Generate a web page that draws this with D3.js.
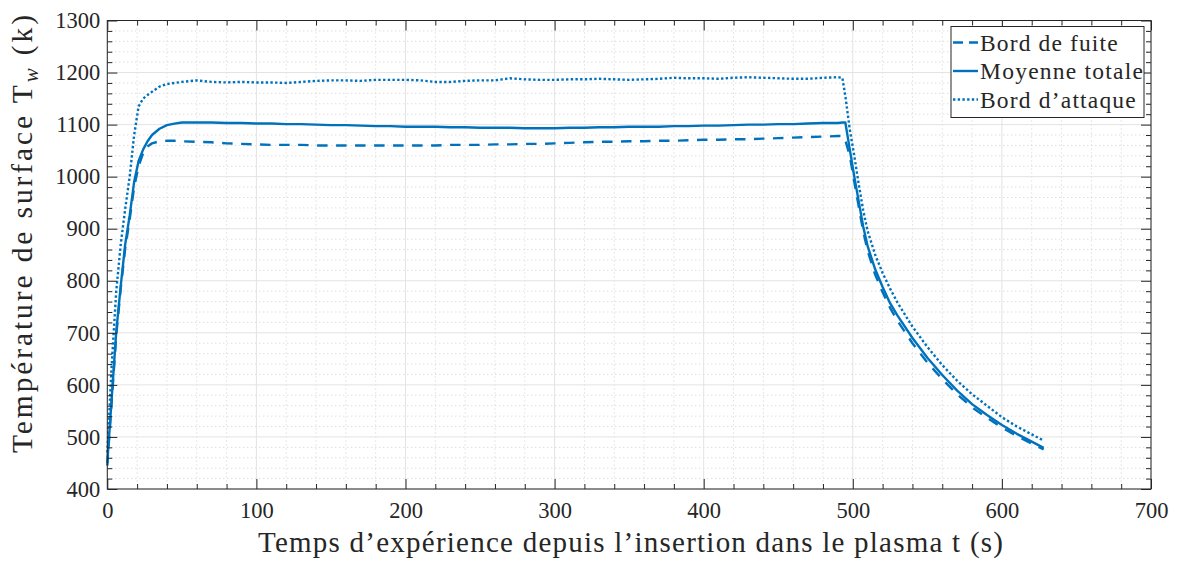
<!DOCTYPE html>
<html>
<head>
<meta charset="utf-8">
<script src="https://cdn.jsdelivr.net/npm/d3@7"></script>
<style>
  html, body { margin: 0; padding: 0; background: #ffffff; }
  svg { display: block; }
  text { font-family: "Liberation Serif", "Times New Roman", serif; fill: #262626; }
</style>
</head>
<body>
<svg id="chart" width="1182" height="563"></svg>
<script>
// ---------- data ----------
const time = [0, 3, 6, 9, 12, 15, 18, 21, 24, 27, 30, 35, 40, 45, 50, 60, 70, 80, 90, 100,
  110, 120, 130, 140, 150, 160, 170, 180, 190, 200, 210, 220, 230, 240, 250, 260, 270, 280, 290, 300,
  310, 320, 330, 340, 350, 360, 370, 380, 390, 400, 410, 420, 430, 440, 450, 460, 470, 480, 490, 493,
  495, 498, 501, 504, 507, 510, 515, 520, 525, 530, 540, 550, 560, 570, 580, 590, 600, 610, 620, 628];

const bordFuite = [445, 570, 695, 785, 862, 918, 980, 1020, 1045, 1058, 1064, 1068, 1069, 1069, 1068, 1067, 1066, 1064, 1063, 1062,
  1061, 1061, 1061, 1060, 1060, 1060, 1060, 1060, 1060, 1060, 1060, 1060, 1061, 1061, 1061, 1062, 1062, 1063, 1063, 1064,
  1065, 1066, 1067, 1067, 1068, 1068, 1069, 1069, 1070, 1071, 1071, 1072, 1072, 1073, 1074, 1075, 1076, 1077, 1078, 1078,
  1070, 1040, 990, 942, 895, 857, 812, 778, 748, 723, 680, 643, 611, 582, 557, 537, 518, 502, 487, 476];

const moyenneTotale = [450, 576, 702, 790, 870, 925, 990, 1030, 1052, 1068, 1080, 1092, 1099, 1102, 1104, 1104, 1104, 1103, 1103, 1102,
  1102, 1101, 1101, 1100, 1099, 1099, 1098, 1097, 1097, 1096, 1096, 1096, 1095, 1095, 1094, 1094, 1094, 1093, 1093, 1093,
  1094, 1094, 1095, 1095, 1096, 1096, 1096, 1097, 1097, 1098, 1098, 1099, 1100, 1100, 1101, 1101, 1102, 1103, 1103, 1104,
  1104, 1052, 1000, 952, 904, 866, 822, 788, 757, 733, 690, 652, 619, 589, 563, 542, 523, 506, 491, 479];

const bordAttaque = [470, 640, 780, 870, 938, 1000, 1080, 1135, 1150, 1157, 1163, 1173, 1178, 1180, 1182, 1185, 1182, 1181, 1182, 1181,
  1181, 1180, 1182, 1184, 1185, 1185, 1184, 1186, 1186, 1186, 1185, 1182, 1182, 1184, 1185, 1185, 1189, 1187, 1186, 1186,
  1187, 1187, 1188, 1187, 1186, 1187, 1188, 1190, 1189, 1189, 1188, 1190, 1191, 1190, 1189, 1188, 1188, 1190, 1191, 1190,
  1155, 1090, 1040, 985, 935, 895, 850, 815, 785, 758, 712, 673, 638, 608, 582, 560, 538, 520, 505, 493];

const seriesNames = ["Bord de fuite", "Moyenne totale", "Bord d\u2019attaque"];
const xTicks = [0, 100, 200, 300, 400, 500, 600, 700];
const yTicks = [400, 500, 600, 700, 800, 900, 1000, 1100, 1200, 1300];
const xLabel = "Temps d\u2019exp\u00e9rience depuis l\u2019insertion dans le plasma t (s)";
const yLabelMain = "Temp\u00e9rature de surface T";
const yLabelSub = "w";
const yLabelEnd = " (k)";

// ---------- layout ----------
const color = "#0072BD";
const axisColor = "#262626";
const serif = "'Liberation Serif', 'Times New Roman', serif";
const pL = 107.3, pR = 1151, pT = 20.5, pB = 489;

const svg = d3.select("#chart");
const x = d3.scaleLinear().domain([0, 700]).range([pL, pR]);
const y = d3.scaleLinear().domain([400, 1300]).range([pB, pT]);

const xMinor = d3.range(0, 701, 20).filter(v => v % 100 !== 0);
const yMinor = d3.range(400, 1301, 20).filter(v => v % 100 !== 0);

// grid
const grid = svg.append("g");
grid.selectAll(".mx").data(xMinor).join("line")
  .attr("x1", d => x(d)).attr("x2", d => x(d)).attr("y1", pT).attr("y2", pB)
  .attr("stroke", "#cfcfcf").attr("stroke-width", 1).attr("stroke-dasharray", "1,3");
grid.selectAll(".my").data(yMinor).join("line")
  .attr("y1", d => y(d)).attr("y2", d => y(d)).attr("x1", pL).attr("x2", pR)
  .attr("stroke", "#cfcfcf").attr("stroke-width", 1).attr("stroke-dasharray", "1,3");
grid.selectAll(".Mx").data(xTicks).join("line")
  .attr("x1", d => x(d)).attr("x2", d => x(d)).attr("y1", pT).attr("y2", pB)
  .attr("stroke", "#e3e3e3").attr("stroke-width", 1);
grid.selectAll(".My").data(yTicks).join("line")
  .attr("y1", d => y(d)).attr("y2", d => y(d)).attr("x1", pL).attr("x2", pR)
  .attr("stroke", "#e3e3e3").attr("stroke-width", 1);

// lines
const series = [
  { name: seriesNames[0], values: bordFuite, dash: "10.5,8.5", w: 2.4 },
  { name: seriesNames[1], values: moyenneTotale, dash: null, w: 2.4 },
  { name: seriesNames[2], values: bordAttaque, dash: "2.4,2.3", w: 2.4 }
];
const line = d3.line().x((d, i) => x(time[i])).y(d => y(d));
svg.append("g").selectAll("path").data(series).join("path")
  .attr("d", d => line(d.values))
  .attr("fill", "none")
  .attr("stroke", color)
  .attr("stroke-width", d => d.w)
  .attr("stroke-linejoin", "round")
  .attr("stroke-dasharray", d => d.dash);

// axes
function styleAxis(g) {
  g.attr("font-family", serif);
  g.selectAll("path").attr("stroke", axisColor);
  g.selectAll("line").attr("stroke", axisColor);
  g.selectAll("text").attr("font-size", "22.5px").attr("fill", axisColor)
    .style("font-family", serif);
}
function noDomain(g) { g.select(".domain").remove(); }
svg.append("g").attr("transform", `translate(0,${pB})`)
  .call(d3.axisBottom(x).tickValues(xTicks).tickSizeInner(-10).tickSizeOuter(0).tickPadding(13).tickFormat(d3.format("d")))
  .call(styleAxis).call(noDomain);
svg.append("g").attr("transform", `translate(${pL},0)`)
  .call(d3.axisLeft(y).tickValues(yTicks).tickSizeInner(-10).tickSizeOuter(0).tickPadding(7).tickFormat(d3.format("d")))
  .call(styleAxis).call(noDomain);
svg.append("g").attr("transform", `translate(0,${pT})`)
  .call(d3.axisTop(x).tickValues(xTicks).tickSizeInner(-10).tickSizeOuter(0).tickFormat(""))
  .call(styleAxis).call(noDomain);
svg.append("g").attr("transform", `translate(${pR},0)`)
  .call(d3.axisRight(y).tickValues(yTicks).tickSizeInner(-10).tickSizeOuter(0).tickFormat(""))
  .call(styleAxis).call(noDomain);
// minor ticks
svg.append("g").attr("transform", `translate(0,${pB})`)
  .call(d3.axisBottom(x).tickValues(xMinor).tickSizeInner(-5).tickSizeOuter(0).tickFormat(""))
  .call(styleAxis).call(noDomain);
svg.append("g").attr("transform", `translate(0,${pT})`)
  .call(d3.axisTop(x).tickValues(xMinor).tickSizeInner(-5).tickSizeOuter(0).tickFormat(""))
  .call(styleAxis).call(noDomain);
svg.append("g").attr("transform", `translate(${pL},0)`)
  .call(d3.axisLeft(y).tickValues(yMinor).tickSizeInner(-5).tickSizeOuter(0).tickFormat(""))
  .call(styleAxis).call(noDomain);
svg.append("g").attr("transform", `translate(${pR},0)`)
  .call(d3.axisRight(y).tickValues(yMinor).tickSizeInner(-5).tickSizeOuter(0).tickFormat(""))
  .call(styleAxis).call(noDomain);

// box
svg.append("rect").attr("x", pL).attr("y", pT).attr("width", pR - pL).attr("height", pB - pT)
  .attr("fill", "none").attr("stroke", axisColor).attr("stroke-width", 1);

// axis labels
svg.append("text").attr("x", 630.5).attr("y", 552)
  .attr("text-anchor", "middle").attr("font-size", "29px")
  .attr("textLength", 745).attr("lengthAdjust", "spacing")
  .text(xLabel);

const yl = svg.append("text").attr("transform", "translate(31.5,234) rotate(-90)")
  .attr("text-anchor", "middle").attr("font-size", "29.5px")
  .attr("textLength", 438).attr("lengthAdjust", "spacing");
yl.append("tspan").text(yLabelMain);
yl.append("tspan").attr("font-style", "italic").attr("font-size", "21px").attr("dy", 6).text(yLabelSub);
yl.append("tspan").attr("dy", -6).text(yLabelEnd);

// legend
const lg = svg.append("g");
lg.append("rect").attr("x", 951).attr("y", 26.5).attr("width", 193).attr("height", 91)
  .attr("fill", "#ffffff").attr("stroke", axisColor).attr("stroke-width", 1);
const rowY = [42.5, 71, 99.5];
series.forEach((s, i) => {
  lg.append("line").attr("x1", 953).attr("x2", 978).attr("y1", rowY[i]).attr("y2", rowY[i])
    .attr("stroke", color).attr("stroke-width", s.w)
    .attr("stroke-dasharray", s.dash ? (i === 0 ? "10,6" : s.dash) : null);
  const t = lg.append("text").attr("x", 980).attr("y", rowY[i]).attr("dy", "0.35em")
    .attr("font-size", "23.5px")
    .text(s.name);
  const w = t.node().getComputedTextLength();
  t.attr("textLength", w * 1.11).attr("lengthAdjust", "spacing");
});
</script>
</body>
</html>
